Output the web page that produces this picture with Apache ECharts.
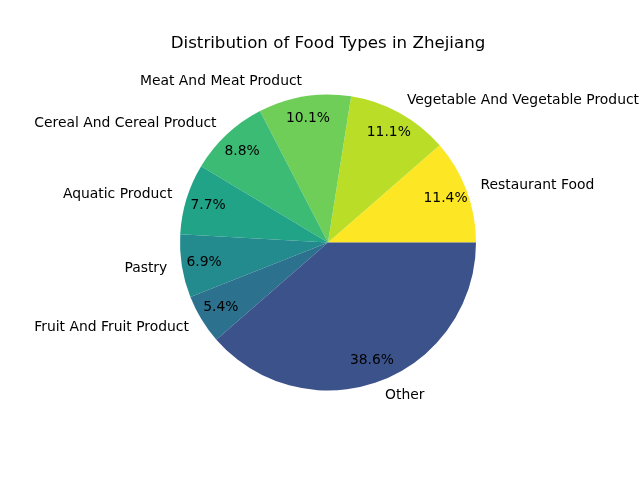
<!DOCTYPE html>
<html>
<head>
<meta charset="utf-8">
<script src="https://cdn.jsdelivr.net/npm/echarts@6/dist/echarts.min.js"></script>
<style>html,body{margin:0;padding:0;background:#fff}#c{width:640px;height:480px}</style>
</head>
<body>
<div id="c"></div>
<script>
const categories = ["Restaurant Food","Vegetable And Vegetable Product","Meat And Meat Product","Cereal And Cereal Product","Aquatic Product","Pastry","Fruit And Fruit Product","Other"];
const shares = [11.4, 11.1, 10.1, 8.8, 7.7, 6.9, 5.4, 38.6];
const colors = ["#fde725","#bade28","#6fce58","#3cbb75","#20a386","#238a8d","#2c718e","#3b528b"];
const titleText = "Distribution of Food Types in Zhejiang";

const R = 148;
const font = "DejaVu Sans";
const chart = echarts.init(document.getElementById('c'), null, {renderer:'canvas'});
const data = categories.map((n,i)=>({name:n, value:shares[i], itemStyle:{color:colors[i]}}));
chart.setOption({
  animation:false,
  backgroundColor:'#fff',
  title:{text:titleText, left:323, top:30, textAlign:'center',
    textStyle:{fontFamily:font, fontSize:16.67, fontWeight:'normal', color:'#000'}},
  series:[
    {type:'pie', center:[328,242.5], radius:[0,R], startAngle:0, clockwise:false,
     avoidLabelOverlap:false, silent:true, emphasis:{disabled:true},
     itemStyle:{borderWidth:0},
     label:{show:true, position:'outside', formatter:'{b}', color:'#000',
       fontFamily:font, fontSize:13.9, distanceToLabelLine:0, padding:[1,0,0,0]},
     labelLine:{show:false, length:R*0.1, length2:0},
     data:data},
    {type:'pie', center:[328,242.5], radius:[97,R], startAngle:0, clockwise:false,
     avoidLabelOverlap:false, silent:true, emphasis:{disabled:true},
     itemStyle:{color:'rgba(0,0,0,0)', borderWidth:0},
     label:{show:true, position:'inside', formatter:(p)=>p.value.toFixed(1)+'%', color:'#000',
       fontFamily:font, fontSize:13.9, padding:[1,0,0,0]},
     labelLine:{show:false},
     data:categories.map((n,i)=>({name:n, value:shares[i]}))}
  ]
});
</script>
</body>
</html>
